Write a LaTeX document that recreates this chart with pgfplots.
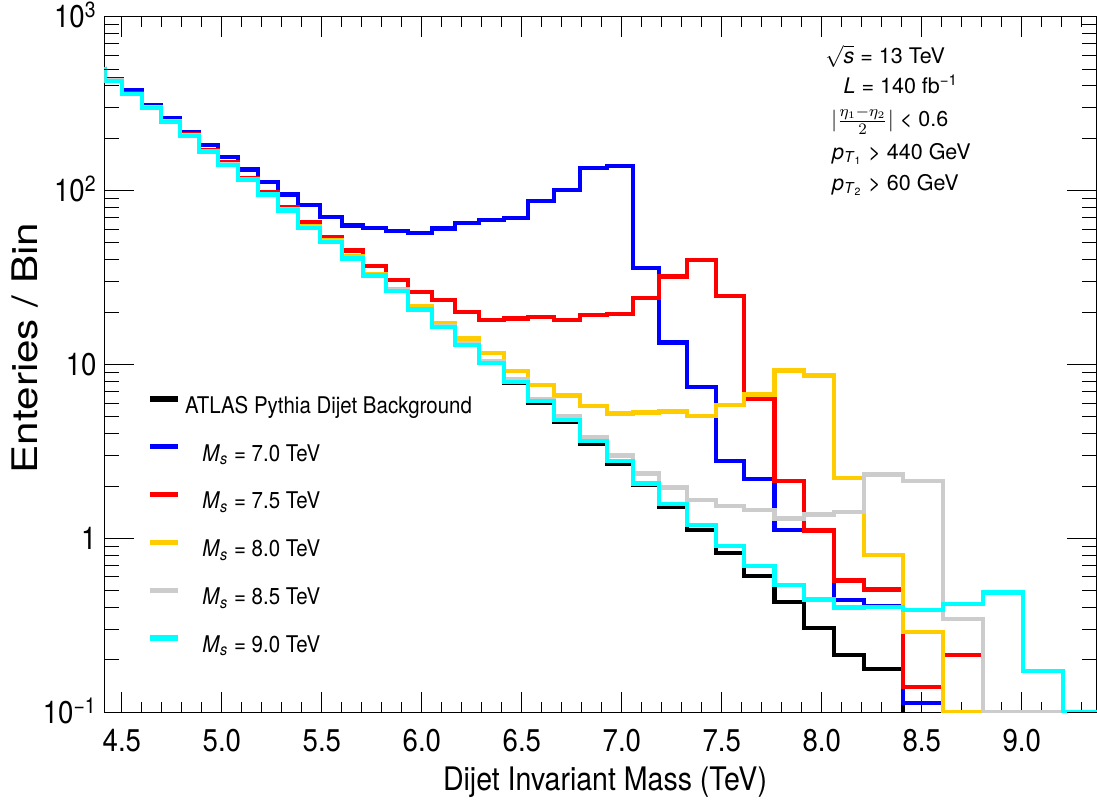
\documentclass[border=0pt]{standalone}
\usepackage{fontspec}
\setmainfont{TeX Gyre Heros}
\newfontfamily\tickfont[FakeStretch=0.88]{TeX Gyre Heros}
\newfontfamily\legfont[FakeStretch=0.89]{TeX Gyre Heros}
\newfontfamily\ylabfont[FakeStretch=1.2]{TeX Gyre Heros}
\usepackage{pgfplots}
\pgfplotsset{compat=1.18}
\definecolor{cblue}{RGB}{0,0,255}
\definecolor{cred}{RGB}{255,0,0}
\definecolor{cyel}{RGB}{255,204,0}
\definecolor{cgray}{RGB}{204,204,204}
\definecolor{ccyan}{RGB}{0,255,255}
\begin{document}
\begin{tikzpicture}
\useasboundingbox (-52.25pt,-43.85pt) rectangle (496.25pt,356.15pt);
\begin{axis}[
  at={(0pt,0pt)}, anchor=south west,
  scale only axis, width=496.25pt, height=347.8pt,
  xmin=4.413, xmax=9.376, ymode=log, ymin=0.1, ymax=1000,
  xtick={4.5,5,5.5,6,6.5,7,7.5,8,8.5,9},
  xticklabels={4.5,5.0,5.5,6.0,6.5,7.0,7.5,8.0,8.5,9.0},
  minor xtick={4.6,4.7,4.8,4.9,5.1,5.2,5.3,5.4,5.6,5.7,5.8,5.9,6.1,6.2,6.3,6.4,6.6,6.7,6.8,6.9,7.1,7.2,7.3,7.4,7.6,7.7,7.8,7.9,8.1,8.2,8.3,8.4,8.6,8.7,8.8,8.9,9.1,9.2,9.3},
  ytick=\empty,
  major tick length=10pt, minor tick length=5pt,
  tick style={black, line width=0.5pt},
  axis line style={line width=0.6pt},
  x tick label style={font=\tickfont\fontsize{15.7}{16}\selectfont, anchor=base, yshift=-19.35pt, inner sep=0pt},
  const plot,
  every axis plot/.append style={line width=2.15pt, no markers},
  legend style={at={(0.0431,0.4543)}, anchor=north west, draw=none, fill=none,
    inner sep=0pt, outer sep=0pt, row sep=12.9pt, column sep=2.5pt,
    font=\legfont\fontsize{11.5}{12}\selectfont,
    nodes={inner sep=0pt, text height=8.5pt, text depth=2.5pt}},
  legend cell align=left,
  legend image code/.code={\draw[#1, line width=2.6pt] (0pt,4.15pt) -- (13.85pt,4.15pt);},
]
\addplot[black] coordinates {(4.413,516) (4.413,428) (4.502,360) (4.602,299) (4.696,249) (4.791,207) (4.886,168) (4.982,141) (5.082,116) (5.182,94.8) (5.282,76.7) (5.382,61.2) (5.490,50.7) (5.599,40.7) (5.707,32.5) (5.821,26.4) (5.932,20.7) (6.049,16.4) (6.166,13.0) (6.287,10.2) (6.412,7.85) (6.532,6.05) (6.661,4.66) (6.791,3.52) (6.924,2.70) (7.057,2.02) (7.187,1.52) (7.327,1.12) (7.471,0.828) (7.611,0.607) (7.763,0.43) (7.911,0.305) (8.061,0.213) (8.211,0.178) (8.406,0.1)};
\addlegendentry{ATLAS Pythia Dijet Background}
\addplot[cblue] coordinates {(4.413,516) (4.413,440) (4.502,376) (4.602,311) (4.696,260) (4.791,218) (4.886,183) (4.982,156) (5.082,132) (5.182,112) (5.282,94.8) (5.382,82.4) (5.490,70.6) (5.599,63) (5.707,61) (5.821,58.7) (5.932,57.1) (6.049,60.5) (6.166,65.2) (6.287,67.5) (6.412,69.7) (6.532,86.8) (6.661,100.4) (6.791,135) (6.924,139) (7.057,35.9) (7.187,13.4) (7.327,7.42) (7.471,2.78) (7.611,2.19) (7.763,1.12) (7.911,1.12) (8.061,0.444) (8.211,0.41) (8.406,0.113) (8.606,0.1)};
\addlegendentry{\hspace*{8.65pt}\textit{M}\textsubscript{\textit{s}} = 7.0 TeV}
\addplot[cred] coordinates {(4.413,516) (4.413,432) (4.502,362) (4.602,302) (4.696,252) (4.791,210) (4.886,171) (4.982,145.5) (5.082,118) (5.182,97.8) (5.282,80.5) (5.382,65.8) (5.490,53.9) (5.599,45.2) (5.707,36.8) (5.821,30.6) (5.932,26) (6.049,23.4) (6.166,20.1) (6.287,18.1) (6.412,18.4) (6.532,18.7) (6.661,18.1) (6.791,19.2) (6.924,19.6) (7.057,24.1) (7.187,32.1) (7.327,39.9) (7.471,24.8) (7.611,6.33) (7.763,2.13) (7.911,1.11) (8.061,0.572) (8.211,0.509) (8.406,0.14) (8.606,0.213) (8.806,0.1)};
\addlegendentry{\hspace*{8.65pt}\textit{M}\textsubscript{\textit{s}} = 7.5 TeV}
\addplot[cyel] coordinates {(4.413,516) (4.413,430) (4.502,361) (4.602,300) (4.696,250) (4.791,208) (4.886,169) (4.982,142) (5.082,117) (5.182,96) (5.282,77.8) (5.382,62.3) (5.490,51.6) (5.599,41.9) (5.707,33.3) (5.821,27) (5.932,21.8) (6.049,17.4) (6.166,14.1) (6.287,11.6) (6.412,9.2) (6.532,7.62) (6.661,6.63) (6.791,5.76) (6.924,5.23) (7.057,5.3) (7.187,5.37) (7.327,5.05) (7.471,5.85) (7.611,6.73) (7.763,9.25) (7.911,8.65) (8.061,2.23) (8.211,0.80) (8.406,0.29) (8.606,0.1) (8.806,0.1) (9.006,0.1)};
\addlegendentry{\hspace*{8.65pt}\textit{M}\textsubscript{\textit{s}} = 8.0 TeV}
\addplot[cgray] coordinates {(4.413,516) (4.413,429) (4.502,361) (4.602,300) (4.696,250) (4.791,208) (4.886,169) (4.982,141.5) (5.082,116.5) (5.182,95.3) (5.282,77.1) (5.382,61.5) (5.490,51) (5.599,41) (5.707,32.7) (5.821,26.6) (5.932,20.9) (6.049,16.6) (6.166,13.2) (6.287,10.5) (6.412,8.2) (6.532,6.3) (6.661,5.05) (6.791,3.84) (6.924,3.0) (7.057,2.36) (7.187,1.96) (7.327,1.66) (7.471,1.53) (7.611,1.46) (7.763,1.30) (7.911,1.37) (8.061,1.42) (8.211,2.33) (8.406,2.13) (8.606,0.345) (8.806,0.1) (9.006,0.1) (9.206,0.1)};
\addlegendentry{\hspace*{8.65pt}\textit{M}\textsubscript{\textit{s}} = 8.5 TeV}
\addplot[ccyan] coordinates {(4.413,516) (4.413,428) (4.502,360) (4.602,299) (4.696,249) (4.791,207) (4.886,168) (4.982,141) (5.082,116) (5.182,94.8) (5.282,76.7) (5.382,61.2) (5.490,50.7) (5.599,40.7) (5.707,32.5) (5.821,26.4) (5.932,20.7) (6.049,16.4) (6.166,13.0) (6.287,10.2) (6.412,7.95) (6.532,6.15) (6.661,4.78) (6.791,3.62) (6.924,2.78) (7.057,2.07) (7.187,1.57) (7.327,1.19) (7.471,0.903) (7.611,0.693) (7.763,0.54) (7.911,0.446) (8.061,0.40) (8.211,0.405) (8.406,0.387) (8.606,0.421) (8.806,0.488) (9.006,0.173) (9.206,0.1) (9.406,0.1)};
\addlegendentry{\hspace*{8.65pt}\textit{M}\textsubscript{\textit{s}} = 9.0 TeV}
\end{axis}
\begin{axis}[
  at={(0pt,0pt)}, anchor=south west,
  scale only axis, width=496.25pt, height=347.8pt,
  xmin=4.413, xmax=9.376, ymode=log, ymin=0.1, ymax=1000,
  xtick=\empty,
  ytick={0.1,1,10,100,1000},
  yticklabels={10\textsuperscript{−1},1,10,10\textsuperscript{2},10\textsuperscript{3}},
  major tick length=15pt, minor tick length=7.5pt,
  tick style={black, line width=0.5pt},
  axis line style={draw=none},
  y tick label style={font=\tickfont\fontsize{15.7}{16}\selectfont, anchor=base east, yshift=-5.6pt, xshift=-3.75pt, inner sep=0pt},
]
\end{axis}
\node[font=\tickfont\fontsize{16.2}{18}\selectfont, anchor=base] at (250.25pt,-38.85pt) {Dijet Invariant Mass (TeV)};
\node[font=\ylabfont\fontsize{17.6}{20}\selectfont, rotate=90] at (-39.75pt,182.15pt) {Enteries / Bin};
\begin{scope}[every node/.style={anchor=base west, inner sep=0pt, font=\fontsize{10.75}{12}\selectfont}]
\node at (360.25pt,324.5pt) {$\sqrt{\mbox{\textit{s}}}$ = 13 TeV};
\node at (369.4pt,309.5pt) {\textit{L} = 140 fb\textsuperscript{−1}};
\node at (363.1pt,292.8pt) {$|\frac{\eta_1-\eta_2}{2}|$ < 0.6};
\node at (363.6pt,276.6pt) {\textit{p}\textsubscript{\textit{T}\textsubscript{1}} > 440 GeV};
\node at (363.6pt,261.1pt) {\textit{p}\textsubscript{\textit{T}\textsubscript{2}} > 60 GeV};
\end{scope}
\end{tikzpicture}
\end{document}
